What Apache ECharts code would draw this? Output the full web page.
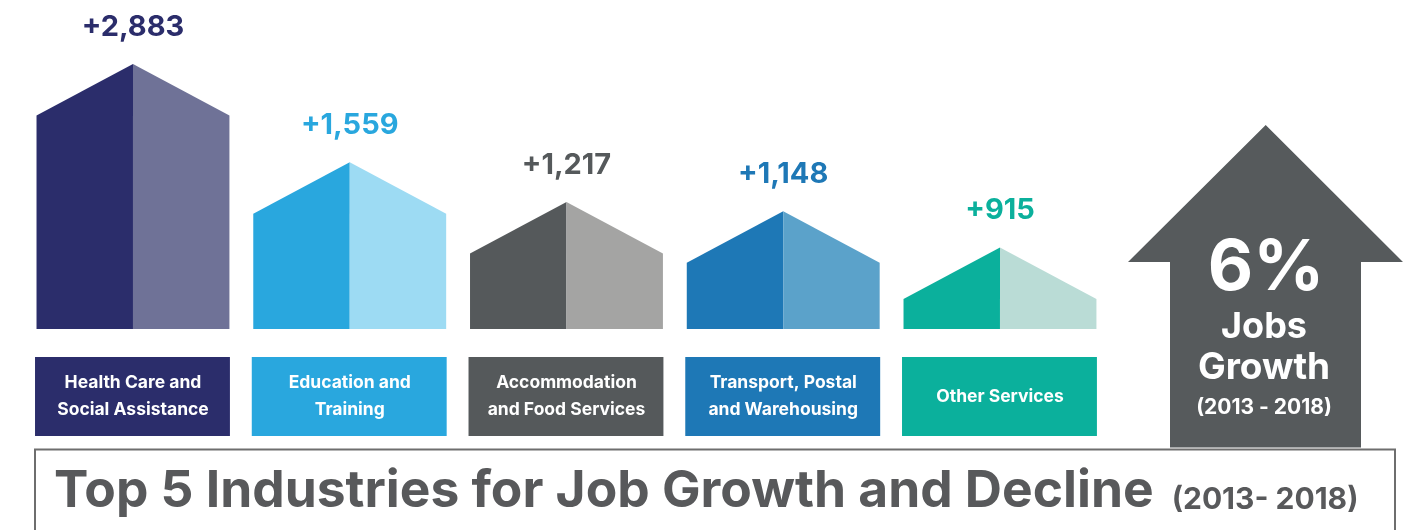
<!DOCTYPE html>
<html>
<head>
<meta charset="utf-8">
<title>Top 5 Industries for Job Growth and Decline (2013- 2018)</title>
<script src="https://cdn.jsdelivr.net/npm/echarts@6/dist/echarts.min.js"></script>
<style>
  html, body { margin: 0; padding: 0; background: #ffffff; }
  #chart { width: 1413px; height: 530px; }
</style>
</head>
<body>
<div id="chart"></div>
<script>
// Industries ranked by jobs added, 2013-2018
const industries = [
  'Health Care and\nSocial Assistance',
  'Education and\nTraining',
  'Accommodation\nand Food Services',
  'Transport, Postal\nand Warehousing',
  'Other Services'
];
const jobsAdded = [2883, 1559, 1217, 1148, 915];

// Overall growth figure shown in the arrow
const totalGrowth = '6%';
const growthPeriod = '(2013 - 2018)';
const titleMain = 'Top 5 Industries for Job Growth and Decline';
const titlePeriod = '(2013- 2018)';

// Palette: front (dark) face, side (light) face for each house
const darkColors  = ['#2b2d6b', '#29a7de', '#55595b', '#1e78b6', '#0bb09c'];
const lightColors = ['#6f7297', '#9ddbf3', '#a4a4a3', '#5ba2ca', '#badcd6'];

const FONT = 'Inter, Lato, sans-serif';
const Y_MIN = 550;      // value at the house floor line
const ROOF_RISE = 51.5; // pixel rise from eaves to ridge
const fmt = v => '+' + v.toLocaleString('en-US');

const chart = echarts.init(document.getElementById('chart'), null, { renderer: 'canvas' });

function renderHouse(params, api) {
  const i = api.value(0);
  const v = api.value(1);
  const top = api.coord([i, v]);
  const base = api.coord([i, Y_MIN]);
  const band = api.size([1, 0])[0];
  const half = band * 0.445;
  const cx = top[0];
  const yTop = top[1];
  const yEave = yTop + ROOF_RISE;
  const yBase = base[1];
  const boxTop = yBase + 28;
  const boxH = 79;
  return {
    type: 'group',
    children: [
      {
        type: 'polygon',
        shape: { points: [[cx - half, yBase], [cx - half, yEave], [cx, yTop], [cx, yBase]] },
        style: { fill: darkColors[i] }
      },
      {
        type: 'polygon',
        shape: { points: [[cx, yBase], [cx, yTop], [cx + half, yEave], [cx + half, yBase]] },
        style: { fill: lightColors[i] }
      },
      {
        type: 'rect',
        shape: { x: cx - half - 1.5, y: boxTop, width: half * 2 + 2, height: boxH },
        style: { fill: darkColors[i] }
      },
      {
        type: 'text',
        x: cx, y: boxTop + boxH / 2,
        style: {
          text: industries[i],
          fill: '#ffffff',
          font: 'bold 17.5px ' + FONT,
          lineHeight: 27,
          align: 'center',
          verticalAlign: 'middle'
        }
      },
      {
        type: 'text',
        x: cx, y: yTop - 37,
        style: {
          text: fmt(v),
          fill: darkColors[i],
          font: 'bold 29px ' + FONT,
          align: 'center',
          verticalAlign: 'middle'
        }
      }
    ]
  };
}

const option = {
  animation: false,
  backgroundColor: '#ffffff',
  grid: { left: 24.6, width: 1083.75, top: 0, height: 329 },
  xAxis: {
    type: 'category',
    data: industries,
    boundaryGap: true,
    show: false
  },
  yAxis: {
    type: 'log',
    min: Y_MIN,
    max: 4300,
    show: false
  },
  series: [{
    type: 'custom',
    renderItem: renderHouse,
    data: jobsAdded.map((v, i) => [i, v]),
    clip: false
  }],
  graphic: [
    // headline frame
    {
      type: 'rect',
      shape: { x: 35, y: 449.5, width: 1360, height: 120 },
      style: { fill: 'none', stroke: '#6e6e6e', lineWidth: 2 },
      z: 10
    },
    {
      type: 'text',
      x: 54, y: 492,
      style: {
        text: '{m|' + titleMain + '}{s|' + titlePeriod + '}',
        rich: {
          m: { font: 'bold 51.5px ' + FONT, fill: '#58595b', verticalAlign: 'bottom' },
          s: { font: 'bold 30px ' + FONT, fill: '#58595b', verticalAlign: 'bottom', padding: [0, 0, 3, 18] }
        },
        verticalAlign: 'middle'
      },
      z: 10
    },
    // growth arrow
    {
      type: 'polygon',
      shape: {
        points: [[1265.7, 125], [1403, 262], [1361, 262], [1361, 447.5],
                 [1170, 447.5], [1170, 262], [1128, 262]]
      },
      style: { fill: '#565a5c' },
      z: 5
    },
    {
      type: 'text', x: 1266, y: 269,
      style: { text: totalGrowth, fill: '#ffffff', font: 'bold 70px ' + FONT, align: 'center', verticalAlign: 'middle' },
      z: 6
    },
    {
      type: 'text', x: 1264, y: 327,
      style: { text: 'Jobs', fill: '#ffffff', font: 'bold 36px ' + FONT, align: 'center', verticalAlign: 'middle' },
      z: 6
    },
    {
      type: 'text', x: 1264, y: 368,
      style: { text: 'Growth', fill: '#ffffff', font: 'bold 37px ' + FONT, align: 'center', verticalAlign: 'middle' },
      z: 6
    },
    {
      type: 'text', x: 1264, y: 408,
      style: { text: growthPeriod, fill: '#ffffff', font: 'bold 21px ' + FONT, align: 'center', verticalAlign: 'middle' },
      z: 6
    }
  ]
};

chart.setOption(option);
</script>
</body>
</html>
